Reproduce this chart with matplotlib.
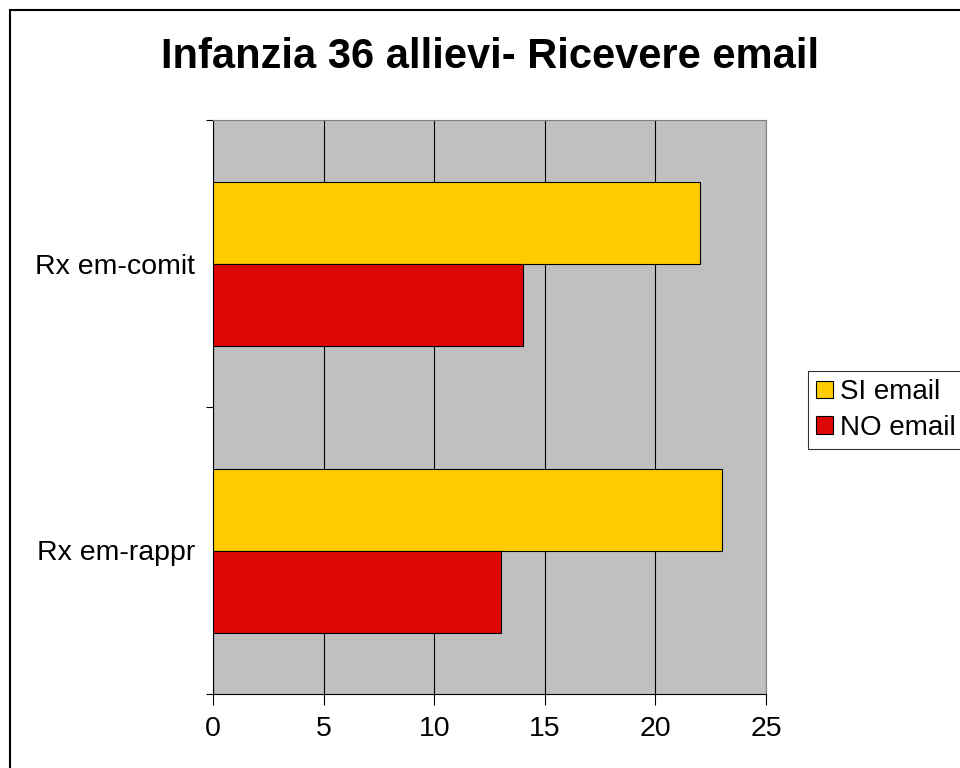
import numpy as np
import matplotlib.pyplot as plt
from matplotlib.patches import Rectangle

categories = ["Rx em-rappr", "Rx em-comit"]
si_email = [23, 22]
no_email = [13, 14]
series_labels = ["SI email", "NO email"]
title = "Infanzia 36 allievi- Ricevere email"

plt.rcParams['font.family'] = ['Liberation Sans', 'DejaVu Sans']

fig = plt.figure(figsize=(9.6, 7.68), dpi=100)
ax = fig.add_axes([213/960, 1 - 694/768, 553/960, 574/768])
ax.set_facecolor('#C0C0C0')

y = np.arange(len(categories))
h = 82/287
ax.barh(y + h/2, si_email, height=h, color='#FFCC00', edgecolor='black', linewidth=0.8, label=series_labels[0], zorder=3)
ax.barh(y - h/2, no_email, height=h, color='#DD0806', edgecolor='black', linewidth=0.8, label=series_labels[1], zorder=3)

ax.set_xlim(0, 25)
ax.set_ylim(-0.5, len(categories) - 0.5)
ax.set_xticks([0, 5, 10, 15, 20, 25])
ax.xaxis.grid(True, color='black', linewidth=0.8, zorder=1)
ax.set_axisbelow(True)

ax.set_yticks([-0.5, 0.5, 1.5])
ax.set_yticklabels([])
ax.set_yticks(y, minor=True)
ax.set_yticklabels(categories, minor=True, fontsize=20.5)
ax.tick_params(axis='y', which='minor', length=0, pad=13)
ax.tick_params(axis='y', which='major', length=5, width=0.8)
ax.tick_params(axis='x', length=8, width=0.8, labelsize=20.5, pad=8)

for s in ['top', 'right']:
    ax.spines[s].set_color('#808080')
for s in ['left', 'bottom']:
    ax.spines[s].set_color('black')
    ax.spines[s].set_linewidth(0.8)

fig.text(0.511, 1 - 57/768, title, fontsize=30, fontweight='bold', ha='center', va='center')

leg = ax.legend(loc='center left', bbox_to_anchor=(808/553 - 213/553, (1 - 410/768 - (1 - 694/768)) / (574/768)),
                fontsize=20, frameon=True, fancybox=False, edgecolor='black',
                handlelength=0.6, handleheight=0.6, handletextpad=0.25, borderpad=0.3, labelspacing=0.35, borderaxespad=0)
leg.get_frame().set_linewidth(0.8)

fig.patches.append(Rectangle((10/960, -0.1), 1.2, 1 - 10/768 + 0.1, transform=fig.transFigure,
                             fill=False, edgecolor='black', linewidth=1.5))

plt.savefig('out.png', dpi=100)
